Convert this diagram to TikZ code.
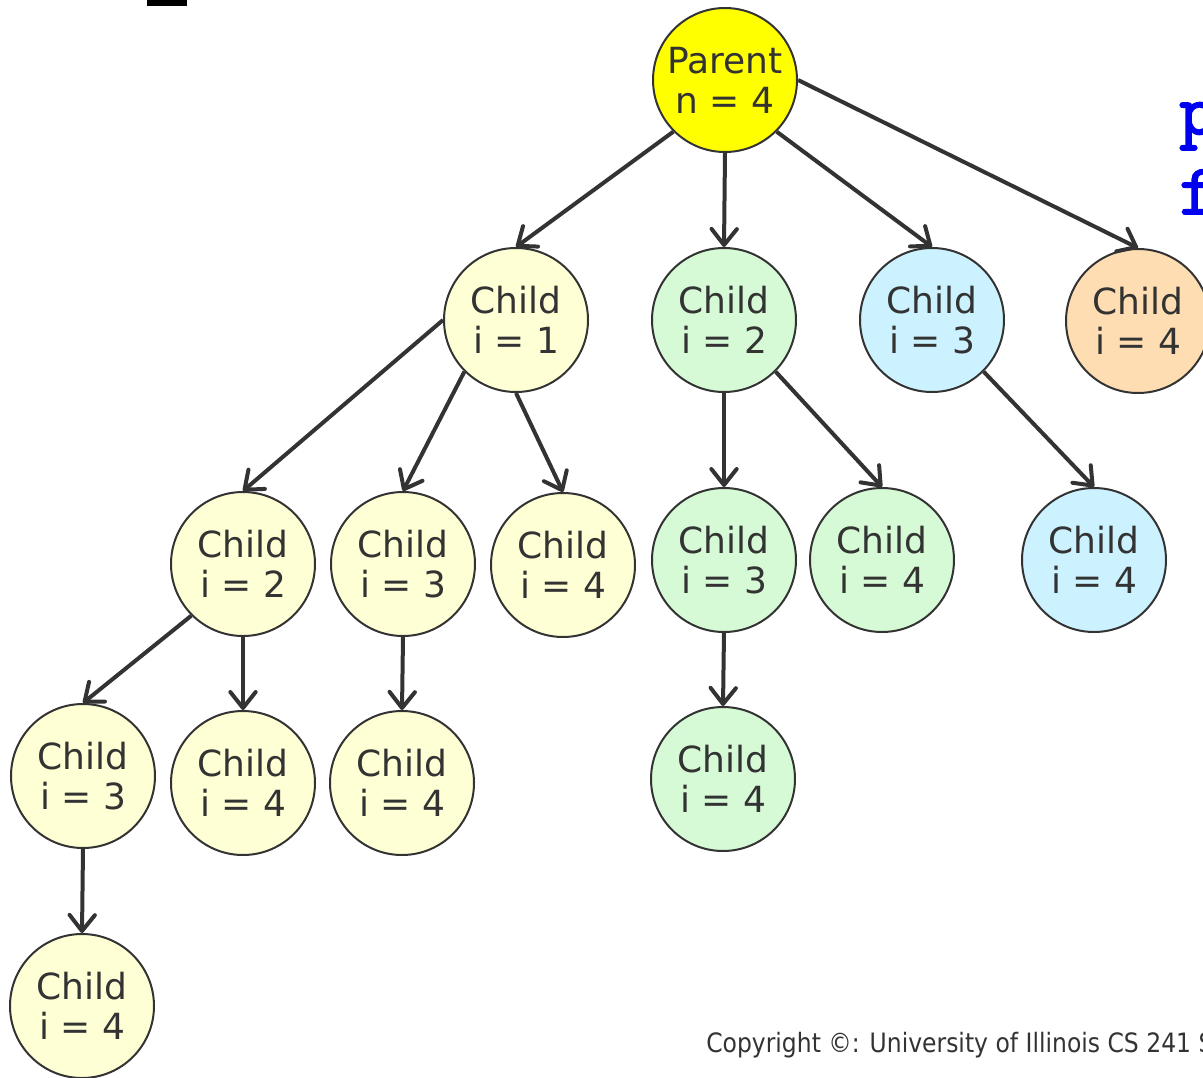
\documentclass[tikz,border=0pt]{standalone}
\usepackage{fontspec}
\setmainfont{DejaVu Sans}
\newfontfamily\copyfont[FakeStretch=0.88]{DejaVu Sans}
\newfontfamily\codefont[FakeBold=2.5]{Latin Modern Mono}
\usetikzlibrary{arrows.meta}
\definecolor{ink}{HTML}{333333}
\definecolor{yelfill}{HTML}{FFFFD5}
\definecolor{grnfill}{HTML}{D5FAD5}
\definecolor{blufill}{HTML}{CCF2FF}
\definecolor{orgfill}{HTML}{FFDDB3}
\definecolor{parfill}{HTML}{FFFF00}
\definecolor{codeblue}{HTML}{0000F0}
\begin{document}
\begin{tikzpicture}[x=0.75pt,y=-0.75pt,
  circ/.style={circle, draw=ink, line width=1.5pt, minimum size=108pt, inner sep=0pt,
    align=center, text=ink, font=\fontsize{27}{30}\selectfont},
  par/.style={circ, fill=parfill},
  yel/.style={circ, fill=yelfill},
  grn/.style={circ, fill=grnfill},
  blu/.style={circ, fill=blufill},
  org/.style={circ, fill=orgfill},
  conn/.style={draw=ink, line width=3pt, -{Straight Barb[length=12pt,width=19pt,round]}}
]
\useasboundingbox (0,0) rectangle (1203,1078);
\clip (0,0) rectangle (1203,1078);

\fill[black] (147,0) rectangle (187,6);

% nodes
\node[par] (P) at (725,80) {Parent\\n = 4};
\node[yel] (A) at (516,320) {Child\\i = 1};
\node[grn] (B) at (724,320) {Child\\i = 2};
\node[blu] (C) at (932,320) {Child\\i = 3};
\node[org] (D) at (1138,321) {Child\\i = 4};

\node[yel] (A2) at (243,564) {Child\\i = 2};
\node[yel] (A3) at (403,564) {Child\\i = 3};
\node[yel] (A4) at (563,565) {Child\\i = 4};
\node[grn] (B3) at (724,560) {Child\\i = 3};
\node[grn] (B4) at (882,560) {Child\\i = 4};
\node[blu] (C4) at (1094,560) {Child\\i = 4};

\node[yel] (A23) at (83,776) {Child\\i = 3};
\node[yel] (A24) at (243,783) {Child\\i = 4};
\node[yel] (A34) at (402,783) {Child\\i = 4};
\node[grn] (B34) at (723,779) {Child\\i = 4};

\node[yel] (A234) at (82,1006) {Child\\i = 4};

% connectors
\draw[conn] (P.south west) -- (A.north);
\draw[conn] (P.south) -- (B.north);
\draw[conn] (P.south east) -- (C.north);
\draw[conn] (P.east) -- (D.north);

\draw[conn] (A.west) -- (A2.north);
\draw[conn] (A.south west) -- (A3.north);
\draw[conn] (A.south) -- (A4.north);
\draw[conn] (B.south) -- (B3.north);
\draw[conn] (B.south east) -- (B4.north);
\draw[conn] (C.south east) -- (C4.north);

\draw[conn] (A2.south west) -- (A23.north);
\draw[conn] (A2.south) -- (A24.north);
\draw[conn] (A3.south) -- (A34.north);
\draw[conn] (B3.south) -- (B34.north);
\draw[conn] (A23.south) -- (A234.north);

% side texts
\node[anchor=base west, inner sep=0pt, text=codeblue, font=\codefont\fontsize{54}{54}\selectfont] (cp) at (1179,134) {p};
\node[anchor=base west, inner sep=0pt, text=codeblue, font=\codefont\fontsize{54}{54}\selectfont] (cf) at (1179,214) {f};
\node[anchor=base west, inner sep=0pt, text=ink, font=\copyfont\fontsize{20}{24}\selectfont] (copy) at (706,1052) {Copyright ©: University of Illinois CS 241 S};
\end{tikzpicture}
\end{document}
